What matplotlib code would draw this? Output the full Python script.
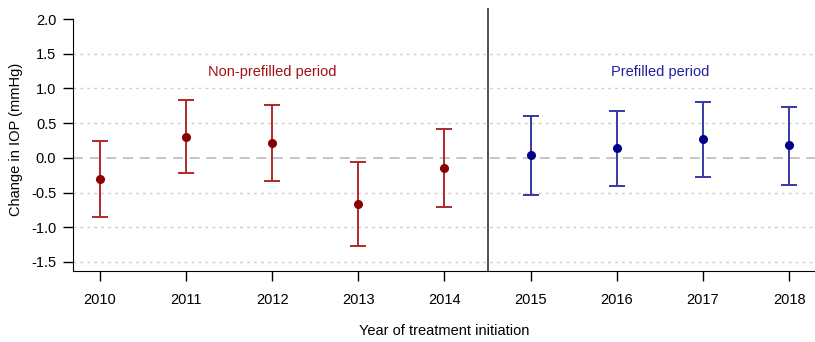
import numpy as np
import matplotlib.pyplot as plt

plt.rcParams['font.family'] = ['Liberation Sans', 'DejaVu Sans']

years = [2010, 2011, 2012, 2013, 2014, 2015, 2016, 2017, 2018]
est = [-0.30, 0.30, 0.21, -0.66, -0.14, 0.04, 0.14, 0.27, 0.18]
lower = [-0.85, -0.22, -0.33, -1.27, -0.71, -0.53, -0.41, -0.27, -0.39]
upper = [0.24, 0.83, 0.76, -0.06, 0.42, 0.60, 0.68, 0.81, 0.74]
yticks = [-1.5, -1.0, -0.5, 0.0, 0.5, 1.0, 1.5, 2.0]

years = np.array(years)
est = np.array(est)
lower = np.array(lower)
upper = np.array(upper)

fig = plt.figure(figsize=(8.15, 3.42), dpi=100)
ax = fig.add_axes([73/815, 71/342, 742/815, 263/342])

# grid lines
for v in yticks:
    if v == 0:
        ax.axhline(v, color='#bbbbbb', lw=1.2, ls=(0, (6, 4)), zorder=0)
    elif v < 2.0:
        ax.axhline(v, color='#cccccc', lw=1, ls=(0, (2, 3)), zorder=0)

ax.axvline(2014.5, color='#333333', lw=1.2)

pre = years <= 2014
post = ~pre
for mask, bar_col, pt_col in [(pre, '#b02a2a', '#8b0000'), (post, '#3838a8', '#00008b')]:
    ax.errorbar(years[mask], est[mask],
                yerr=[est[mask] - lower[mask], upper[mask] - est[mask]],
                fmt='none', ecolor=bar_col, elinewidth=1.4, capsize=5.5, capthick=1.4)
    ax.plot(years[mask], est[mask], 'o', color=pt_col, ms=5.5, zorder=3)

ax.text(2012, 1.24, 'Non-prefilled period', color='#a01010', fontsize=10.5,
        ha='center', va='center')
ax.text(2016.5, 1.24, 'Prefilled period', color='#2020a0', fontsize=10.5,
        ha='center', va='center')

ax.set_xlim(2009.69, 2018.3)
ax.set_ylim(-1.63, 2.16)
ax.set_xticks(years)
ax.set_yticks(yticks)
ax.set_yticklabels([f'{v:.1f}' for v in yticks])
ax.spines['top'].set_visible(False)
ax.spines['right'].set_visible(False)
ax.spines['left'].set_bounds(-1.63, 2.0)
ax.tick_params(direction='out', length=7, width=1, labelsize=10.5, pad=5)
ax.tick_params(axis='x', pad=9)
ax.set_ylabel('Change in IOP (mmHg)', fontsize=10.5, labelpad=6)
ax.set_xlabel('Year of treatment initiation', fontsize=10.5, labelpad=12)

fig.savefig('out.png', dpi=100)
